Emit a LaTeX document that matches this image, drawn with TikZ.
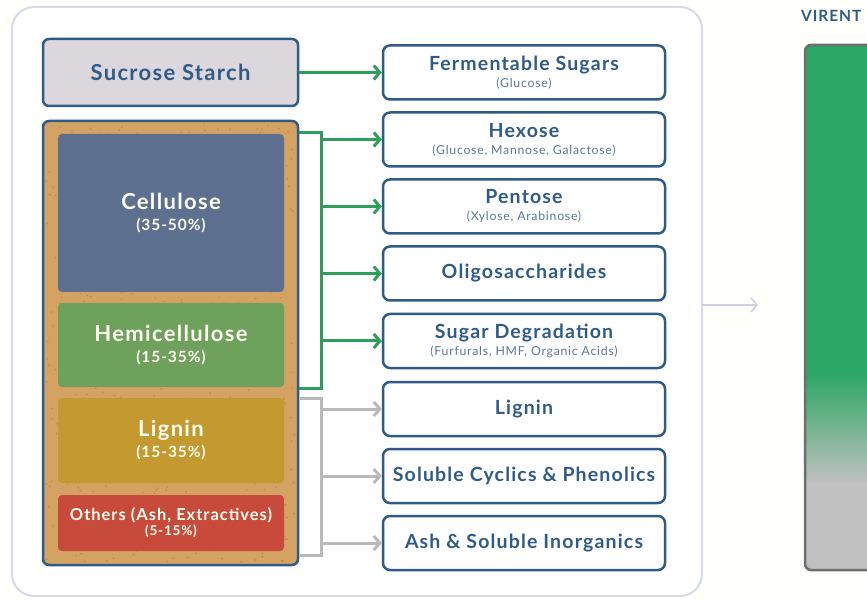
\documentclass[tikz,border=0pt]{standalone}
\usepackage{fontspec}
\setmainfont{Lato}[LetterSpace=6]
\usetikzlibrary{arrows.meta}
\definecolor{boxblue}{HTML}{2F5B88}
\definecolor{subblue}{HTML}{5A7896}
\definecolor{flowgreen}{HTML}{2E9E5A}
\definecolor{flowgray}{HTML}{B9B9B9}
\definecolor{panelline}{HTML}{D6D9E8}
\definecolor{corkfill}{HTML}{D4A263}
\definecolor{corkdark}{HTML}{A8743A}
\definecolor{sugarfill}{HTML}{DCD7DC}
\definecolor{cellfill}{HTML}{5E7090}
\definecolor{hemifill}{HTML}{6EA15C}
\definecolor{ligfill}{HTML}{C49A30}
\definecolor{othfill}{HTML}{C84A3A}
\definecolor{bargreen}{HTML}{2CA765}
\definecolor{bargray}{HTML}{C0C0C0}
\definecolor{barline}{HTML}{6E6E6E}
\newcommand{\subtxt}{\mdseries\fontsize{12.3}{14}\selectfont\color{subblue}}
\newcommand{\pcttxt}{\fontsize{15.5}{18}\selectfont}
\tikzset{
  prodbox/.style={draw=boxblue, line width=2.5pt, rounded corners=7pt, fill=white,
    minimum width=282pt, minimum height=54pt, align=center, text=boxblue,
    font=\bfseries\fontsize{19.5}{22}\selectfont},
  partbox/.style={rounded corners=4pt, minimum width=226pt, align=center,
    text=white!95!yellow, font=\bfseries\fontsize{22}{25}\selectfont},
  garrow/.style={flowgreen, line width=3pt, -{Straight Barb[length=6pt,width=14pt]}},
  grarrow/.style={flowgray, line width=3pt, -{Straight Barb[length=6pt,width=14pt]}}
}
\begin{document}
\begin{tikzpicture}[x=1pt,y=-1pt]
\useasboundingbox (0,0) rectangle (867,601);
\clip (0,0) rectangle (867,601);
\fill[white!60!yellow!3] (0,0) rectangle (867,601);

% panel
\draw[panelline, line width=2pt, fill=white, rounded corners=22pt] (12,7) rectangle (702,596);

% feedstock
\node (sucrose)[draw=boxblue, line width=2.5pt, rounded corners=6pt, fill=sugarfill,
  minimum width=255pt, minimum height=67pt, text=boxblue,
  font=\bfseries\fontsize{22}{25}\selectfont] at (170.5,72.5) {Sucrose Starch};
\node (biomass)[draw=boxblue, line width=2.5pt, rounded corners=6pt, fill=corkfill,
  minimum width=255pt, minimum height=444pt] at (170.5,343) {};
% cork speckle
\pgfmathsetseed{7}
\foreach \i in {1,...,700}
  \fill[corkdark, opacity=.5] (46+249*rnd,124+438*rnd) circle (0.9);
\node (cell)[partbox, fill=cellfill, minimum height=158pt] at (171,213)
  {Cellulose\\[-4pt]{\pcttxt (35-50\%)}};
\node (hemi)[partbox, fill=hemifill, minimum height=84pt] at (171,345)
  {Hemicellulose\\[-4pt]{\pcttxt (15-35\%)}};
\node (lig)[partbox, fill=ligfill, minimum height=85pt] at (171,440.5)
  {Lignin\\[-4pt]{\pcttxt (15-35\%)}};
\node (oth)[partbox, fill=othfill, minimum height=56pt, font=\bfseries\fontsize{16.5}{18}\selectfont] at (171,523)
  {Others (Ash, Extractives)\\[-3pt]{\fontsize{13.5}{15}\selectfont (5-15\%)}};

% products
\node (ferm)[prodbox] at (524,72.5) {Fermentable Sugars\\[-5pt]{\subtxt (Glucose)}};
\node (hex)[prodbox] at (524,139.5) {Hexose\\[-5pt]{\subtxt (Glucose, Mannose, Galactose)}};
\node (pent)[prodbox] at (524,206.5) {Pentose\\[-5pt]{\subtxt (Xylose, Arabinose)}};
\node (oligo)[prodbox] at (524,273.5) {Oligosaccharides};
\node (degr)[prodbox] at (524,341) {Sugar Degradation\\[-5pt]{\subtxt (Furfurals, HMF, Organic Acids)}};
\node (lign)[prodbox] at (524,409) {Lignin};
\node (cycl)[prodbox] at (524,476) {Soluble Cyclics \& Phenolics};
\node (ash)[prodbox] at (524,543) {Ash \& Soluble Inorganics};

% flows
\draw[garrow] (sucrose.east) -- (ferm.west);
\coordinate (gtop) at (321,133);
\coordinate (gbot) at (321,388);
\draw[flowgreen, line width=3pt] (biomass.east |- gtop) -- (gtop) -- (gbot) -- (biomass.east |- gbot);
\foreach \p in {hex,pent,oligo,degr}
  \draw[garrow] (gtop |- \p.west) -- (\p.west);
\coordinate (ytop) at (321,398);
\coordinate (ybot) at (321,555);
\draw[flowgray, line width=3pt] (biomass.east |- ytop) -- (ytop) -- (ybot) -- (biomass.east |- ybot);
\foreach \p in {lign,cycl,ash}
  \draw[grarrow] (ytop |- \p.west) -- (\p.west);

% output bar
\coordinate (panelout) at (702,305);
\coordinate (barin) at (758,305);
\draw[panelline!90!gray, line width=1.5pt, -{Straight Barb[length=6pt,width=14pt]}] (panelout) -- (barin);
\node (virent)[anchor=west, text=boxblue, font=\bfseries\fontsize{15.5}{18}\selectfont, inner sep=0pt] at (801,16) {VIRENT};
\begin{scope}
  \clip[rounded corners=6pt] (805,45) rectangle (885,570);
  \fill[bargray] (805,45) rectangle (885,570);
  \fill[bargreen] (805,45) rectangle (885,373);
  \shade[top color=bargreen, bottom color=bargray] (805,373) rectangle (885,483);
\end{scope}
\draw[barline, line width=2.5pt, rounded corners=6pt] (805,45) rectangle (885,570);
\end{tikzpicture}
\end{document}
